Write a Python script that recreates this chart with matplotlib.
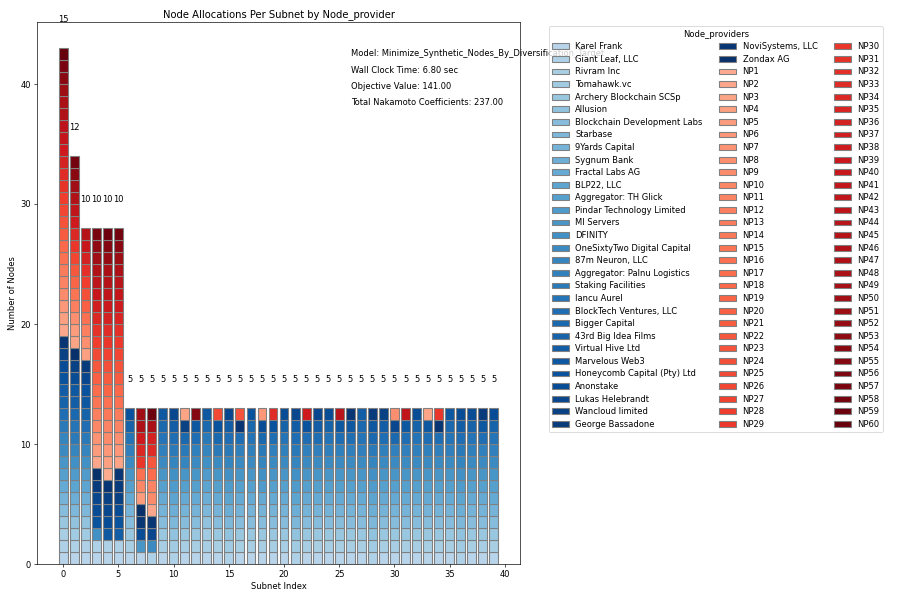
import matplotlib
matplotlib.use("Agg")
import matplotlib.pyplot as plt
from matplotlib.patches import Patch
import numpy as np

blue_providers = [
    "Karel Frank", "Giant Leaf, LLC", "Rivram Inc", "Tomahawk.vc", "Archery Blockchain SCSp",
    "Allusion", "Blockchain Development Labs", "Starbase", "9Yards Capital", "Sygnum Bank",
    "Fractal Labs AG", "BLP22, LLC", "Aggregator: TH Glick", "Pindar Technology Limited",
    "MI Servers", "DFINITY", "OneSixtyTwo Digital Capital", "87m Neuron, LLC",
    "Aggregator: Palnu Logistics", "Staking Facilities", "Iancu Aurel", "BlockTech Ventures, LLC",
    "Bigger Capital", "43rd Big Idea Films", "Virtual Hive Ltd", "Marvelous Web3",
    "Honeycomb Capital (Pty) Ltd", "Anonstake", "Lukas Helebrandt", "Wancloud limited",
    "George Bassadone", "NoviSystems, LLC", "Zondax AG",
]
red_providers = [f"NP{i}" for i in range(1, 61)]

# Per subnet: indices into blue_providers (0-based) and NP numbers (1-based), bottom to top
subnet_blue = [
    [0, 1, 2, 4, 6, 8, 10, 12, 14, 16, 17, 19, 21, 23, 24, 26, 27, 29, 31],
    [0, 1, 3, 5, 7, 9, 11, 13, 15, 17, 19, 20, 22, 24, 25, 27, 29, 32],
    [0, 1, 3, 5, 7, 9, 11, 13, 15, 17, 19, 21, 23, 25, 26, 28, 30],
    [0, 1, 15, 26, 27, 28, 30, 32],
    [0, 1, 25, 27, 28, 29, 31],
    [0, 1, 24, 26, 27, 29, 30, 31],
    [0, 2, 4, 6, 8, 10, 12, 14, 16, 18, 20, 23, 26],
    [0, 14, 27, 31, 32],
    [1, 16, 28, 31],
    [0, 2, 4, 6, 8, 10, 12, 14, 16, 18, 20, 22, 25],
    [1, 3, 5, 7, 9, 11, 13, 15, 17, 19, 21, 24, 28],
    [0, 2, 4, 6, 8, 10, 12, 14, 17, 19, 22, 29],
    [0, 2, 4, 6, 8, 10, 12, 14, 16, 18, 21, 25],
    [0, 2, 3, 5, 7, 9, 11, 13, 15, 17, 19, 22, 25],
    [0, 2, 4, 6, 8, 10, 12, 14, 16, 19, 22, 26],
    [1, 3, 5, 7, 9, 11, 13, 15, 17, 19, 21, 24, 28],
    [0, 2, 4, 6, 8, 10, 12, 14, 16, 18, 21, 31],
    [0, 2, 4, 6, 8, 10, 12, 14, 16, 18, 20, 22, 26],
    [0, 2, 4, 6, 8, 10, 13, 15, 17, 19, 22, 27],
    [0, 2, 4, 6, 8, 10, 12, 14, 16, 18, 21, 26],
    [0, 2, 4, 6, 8, 10, 12, 14, 16, 18, 20, 23, 27],
    [1, 3, 5, 7, 9, 11, 13, 15, 17, 19, 21, 24, 28],
    [0, 2, 4, 6, 8, 10, 12, 14, 16, 18, 21, 26],
    [0, 2, 4, 6, 8, 10, 12, 14, 16, 18, 21, 24, 28],
    [0, 2, 4, 6, 8, 10, 12, 14, 16, 18, 20, 23, 27],
    [0, 2, 4, 6, 8, 10, 12, 14, 16, 18, 21, 25],
    [0, 2, 4, 6, 8, 10, 12, 14, 16, 18, 21, 25, 31],
    [0, 2, 4, 6, 8, 10, 12, 14, 16, 18, 20, 22, 24],
    [1, 3, 5, 7, 9, 11, 13, 15, 17, 19, 22, 25, 30],
    [0, 2, 4, 6, 8, 10, 12, 14, 16, 18, 21, 24, 29],
    [0, 2, 4, 6, 8, 10, 12, 14, 16, 18, 22, 28],
    [0, 2, 4, 6, 8, 10, 12, 14, 16, 18, 21, 25],
    [0, 2, 4, 6, 8, 10, 12, 14, 16, 18, 20, 23, 27],
    [0, 2, 4, 6, 8, 10, 12, 14, 16, 18, 21, 25],
    [0, 2, 4, 6, 8, 10, 12, 14, 16, 18, 21, 31],
    [0, 2, 4, 6, 8, 10, 12, 14, 16, 18, 20, 22, 25],
    [1, 3, 5, 7, 9, 11, 13, 15, 17, 19, 21, 24, 27],
    [0, 2, 4, 6, 8, 10, 12, 14, 16, 18, 20, 23, 27],
    [0, 2, 4, 6, 8, 10, 12, 14, 16, 18, 21, 25, 30],
    [0, 2, 4, 6, 8, 10, 12, 14, 16, 18, 20, 23, 27],
]
subnet_red = [
    [2, 4, 6, 9, 11, 13, 16, 18, 21, 23, 26, 28, 31, 33, 36, 38, 41, 43, 46, 48, 51, 54, 57, 60],
    [3, 5, 8, 12, 15, 19, 22, 26, 30, 34, 38, 42, 46, 50, 54, 58],
    [4, 8, 12, 16, 20, 24, 28, 32, 36, 40, 45],
    [2, 5, 7, 10, 12, 15, 17, 20, 22, 25, 28, 31, 34, 37, 40, 43, 46, 50, 53, 57],
    [1, 4, 6, 9, 11, 14, 16, 19, 21, 24, 27, 30, 33, 36, 39, 42, 45, 48, 52, 55, 59],
    [3, 6, 8, 11, 13, 16, 18, 21, 23, 26, 29, 32, 35, 38, 41, 44, 47, 51, 54, 58],
    [],
    [5, 10, 16, 30, 34, 38, 47, 50],
    [2, 9, 11, 17, 22, 33, 36, 48, 59],
    [], [], [3], [55], [], [25], [], [23], [], [6], [33], [], [], [38], [], [],
    [44], [], [], [], [], [8], [42], [], [3], [30], [], [], [], [], [],
]
nakamoto = [15, 12, 10, 10, 10, 10] + [5] * 34

model_name = "Minimize_Synthetic_Nodes_By_Diversification_Target"
wall_time = 6.80
objective = 141.00
total_nakamoto = 237.00

blue_colors = plt.cm.Blues(np.linspace(0.3, 1.0, len(blue_providers)))
red_colors = plt.cm.Reds(np.linspace(0.3, 1.0, len(red_providers)))

fig = plt.figure(figsize=(15, 10), dpi=60)
ax = fig.add_axes([0.041, 0.06, 0.537, 0.903])

for i in range(len(subnet_blue)):
    bottom = 0
    for b in subnet_blue[i]:
        ax.bar(i, 1, bottom=bottom, color=blue_colors[b], edgecolor="grey", width=0.8, linewidth=1.3)
        bottom += 1
    for r in subnet_red[i]:
        ax.bar(i, 1, bottom=bottom, color=red_colors[r - 1], edgecolor="grey", width=0.8, linewidth=1.3)
        bottom += 1
    ax.text(i, bottom + 2, str(nakamoto[i]), ha="center", va="bottom")

ax.set_title("Node Allocations Per Subnet by Node_provider")
ax.set_xlabel("Subnet Index")
ax.set_ylabel("Number of Nodes")

ax.text(0.65, 0.95, f"Model: {model_name}", transform=ax.transAxes, va="top")
ax.text(0.65, 0.92, f"Wall Clock Time: {wall_time:.2f} sec", transform=ax.transAxes, va="top")
ax.text(0.65, 0.89, f"Objective Value: {objective:.2f}", transform=ax.transAxes, va="top")
ax.text(0.65, 0.86, f"Total Nakamoto Coefficients: {total_nakamoto:.2f}", transform=ax.transAxes, va="top")

handles = [Patch(facecolor=c, edgecolor="grey", linewidth=1.3, label=n) for n, c in zip(blue_providers, blue_colors)]
handles += [Patch(facecolor=c, edgecolor="grey", linewidth=1.3, label=n) for n, c in zip(red_providers, red_colors)]
ax.legend(handles=handles, title="Node_providers", bbox_to_anchor=(1.05, 1), loc="upper left",
          ncol=3, labelspacing=0.43)

fig.savefig("out.png", dpi=60)
